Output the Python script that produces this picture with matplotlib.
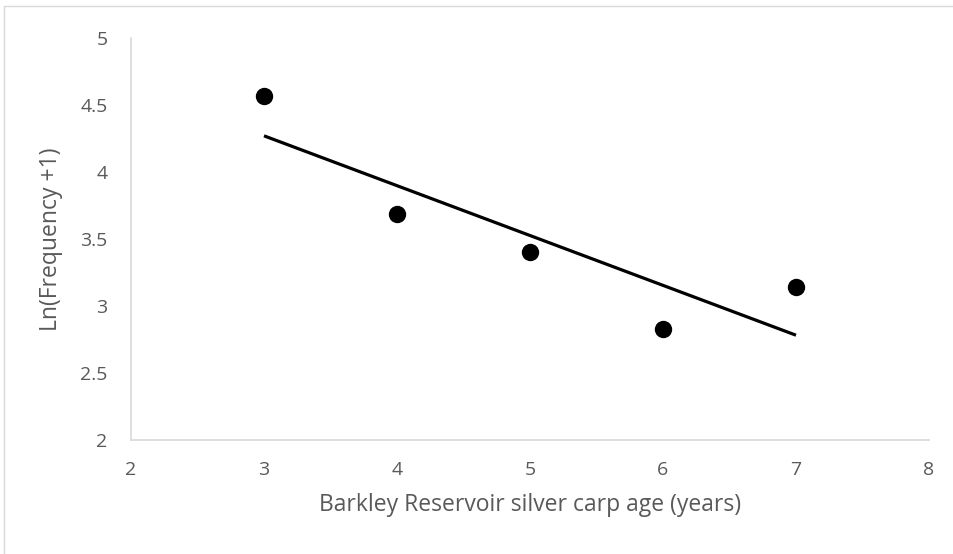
import numpy as np
import matplotlib.pyplot as plt
from matplotlib.patches import Rectangle

plt.rcParams['font.family'] = ['Open Sans', 'DejaVu Sans']

# silver carp age vs ln(frequency + 1)
age = np.array([3, 4, 5, 6, 7])
ln_freq = np.array([4.57, 3.69, 3.40, 2.83, 3.14])

x_ticks = [2, 3, 4, 5, 6, 7, 8]
y_ticks = [2, 2.5, 3, 3.5, 4, 4.5, 5]
y_labels = ['2', '2.5', '3', '3.5', '4', '4.5', '5']

fig = plt.figure(figsize=(9.54, 5.54), dpi=100)
ax = fig.add_axes([131 / 954, 1 - 440 / 554, (929 - 131) / 954, (440 - 38) / 554])

# linear trendline through the points
slope, icpt = np.polyfit(age, ln_freq, 1)
xs = np.array([age.min(), age.max()])
ax.plot(xs, slope * xs + icpt, color='black', lw=2.3, solid_capstyle='butt', zorder=2)
ax.plot(age, ln_freq, 'o', color='black', ms=11.5, zorder=3)

ax.set_xlim(2, 8)
ax.set_ylim(2, 5)
ax.set_xticks(x_ticks)
ax.set_yticks(y_ticks)
ax.set_yticklabels(y_labels)
ax.tick_params(length=0, labelsize=14, colors='#595959')
ax.tick_params(axis='x', pad=15)
ax.tick_params(axis='y', pad=17)
for s in ['top', 'right']:
    ax.spines[s].set_visible(False)
for s in ['left', 'bottom']:
    ax.spines[s].set_color('#d9d9d9')
    ax.spines[s].set_linewidth(1.2)

ax.set_xlabel('Barkley Reservoir silver carp age (years)', fontsize=16.5, color='#595959', labelpad=10)
ax.set_ylabel('Ln(Frequency +1)', fontsize=16.5, color='#595959', labelpad=12)

# chart area border
fig.patches.append(Rectangle((4 / 954, -0.1), 1.2, 1 - 6 / 554 + 0.1, transform=fig.transFigure,
                             fill=False, edgecolor='#d9d9d9', lw=1))

fig.savefig('out.png', dpi=100)
